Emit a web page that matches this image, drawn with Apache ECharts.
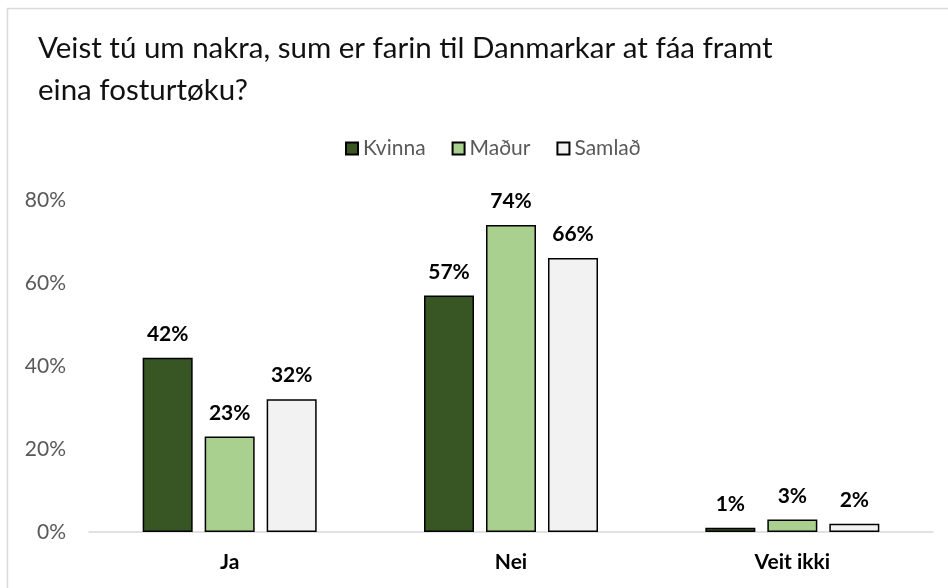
<!DOCTYPE html>
<html>
<head>
<meta charset="utf-8">
<script src="https://cdn.jsdelivr.net/npm/echarts@6/dist/echarts.min.js"></script>
<style>
  html, body { margin: 0; padding: 0; background: #fff; }
  #chart { width: 948px; height: 588px; }
</style>
</head>
<body>
<div id="chart"></div>
<script>
// data
var categories = ['Ja', 'Nei', 'Veit ikki'];
var kvinna = [42, 57, 1];
var madur = [23, 74, 3];
var samlad = [32, 66, 2];
var yTicks = [0, 20, 40, 60, 80];

var font = 'Lato';

function barSeries(name, data, color) {
    return {
        name: name,
        type: 'bar',
        data: data,
        barWidth: 50,
        barGap: '24%',
        itemStyle: {
            color: color,
            borderColor: '#000',
            borderWidth: 1.5
        },
        label: {
            show: true,
            position: 'top',
            distance: 13,
            formatter: '{c}%',
            fontFamily: font,
            fontWeight: 'bold',
            fontSize: 21,
            color: '#000'
        },
        animation: false
    };
}

var option = {
    backgroundColor: '#fff',
    title: {
        text: 'Veist tú um nakra, sum er farin til Danmarkar at fáa framt\neina fosturtøku?',
        left: 33,
        top: 22,
        textStyle: {
            fontFamily: font,
            fontWeight: 'normal',
            fontSize: 29.5,
            lineHeight: 42,
            color: '#111'
        }
    },
    legend: {
        top: 133,
        left: 340,
        itemWidth: 12,
        itemHeight: 12,
        itemGap: 26,
        icon: 'rect',
        textStyle: {
            fontFamily: font,
            fontSize: 21,
            color: '#595959'
        },
        data: ['Kvinna', 'Maður', 'Samlað']
    },
    grid: {
        left: 89,
        right: 15,
        top: 200,
        bottom: 56
    },
    xAxis: {
        type: 'category',
        data: categories,
        axisLine: { lineStyle: { color: '#d9d9d9', width: 1.5 } },
        axisTick: { show: false },
        axisLabel: {
            margin: 20,
            fontFamily: font,
            fontWeight: 'bold',
            fontSize: 21,
            color: '#000'
        }
    },
    yAxis: {
        type: 'value',
        min: 0,
        max: 80,
        interval: 20,
        splitLine: { show: false },
        axisLine: { show: false },
        axisTick: { show: false },
        axisLabel: {
            margin: 23,
            formatter: function (v) { return yTicks.indexOf(v) >= 0 ? v + '%' : ''; },
            fontFamily: font,
            fontSize: 21,
            color: '#595959'
        }
    },
    graphic: [{
        type: 'rect',
        shape: { x: 7.5, y: 8.5, width: 1000, height: 1000 },
        style: { fill: 'none', stroke: '#d9d9d9', lineWidth: 1.5 },
        silent: true
    }],
    series: [
        barSeries('Kvinna', kvinna, '#375623'),
        barSeries('Maður', madur, '#a9d08e'),
        barSeries('Samlað', samlad, '#f2f2f2')
    ]
};

var chart = echarts.init(document.getElementById('chart'));
chart.setOption(option);
</script>
</body>
</html>
